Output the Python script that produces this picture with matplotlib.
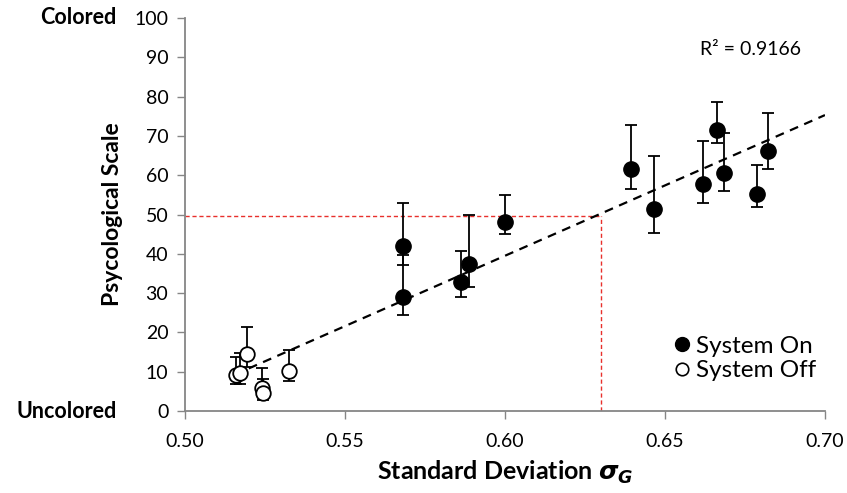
import matplotlib
matplotlib.use('Agg')
from matplotlib import pyplot as plt
from matplotlib.lines import Line2D
import numpy as np

# System On (filled markers): x, y, upper and lower ends of the error bars
on_x = [0.5682, 0.5682, 0.5862, 0.5887, 0.6000, 0.6393,
        0.6465, 0.6619, 0.6664, 0.6686, 0.6789, 0.6821]
on_y = [42.1, 29.1, 32.7, 37.5, 48.0, 61.7,
        51.3, 57.7, 71.4, 60.5, 55.1, 66.1]
on_hi = [53.0, 39.8, 40.6, 50.0, 55.0, 72.7,
         64.8, 68.6, 78.6, 70.7, 62.5, 75.8]
on_lo = [37.2, 24.5, 29.1, 31.6, 45.0, 56.6,
         45.3, 52.8, 68.1, 55.9, 52.0, 61.7]

# System Off (open markers)
off_x = [0.5160, 0.5172, 0.5195, 0.5242, 0.5245, 0.5324]
off_y = [9.2, 9.6, 14.5, 5.8, 4.6, 10.2]
off_hi = [13.7, 14.8, 21.4, 10.9, 8.1, 15.5]
off_lo = [6.9, 6.9, 11.2, 4.0, 2.8, 7.6]

# linear trend line
trend_x = [0.5155, 0.70]
trend_slope = 358.0
trend_icpt = -175.3
r2_text = 'R² = 0.9166'

# red guide lines
guide_x = 0.630
guide_y = 49.7

x_ticks = [0.50, 0.55, 0.60, 0.65, 0.70]
y_ticks = list(range(0, 101, 10))

plt.rcParams['font.family'] = ['Lato', 'DejaVu Sans']
fig = plt.figure(figsize=(8.47, 4.93), dpi=100)
ax = fig.add_axes([0.2184, 0.1663, 0.7556, 0.7972])

gray = '#868686'

# guides
ax.plot([0.50, guide_x], [guide_y, guide_y], color='#e8302c', lw=1.0,
        dashes=(3, 2), zorder=1)
ax.plot([guide_x, guide_x], [0, guide_y], color='#e8302c', lw=1.0,
        dashes=(3, 2), zorder=1)

# trend
tx = np.array(trend_x)
ax.plot(tx, trend_slope * tx + trend_icpt, color='black', lw=1.6,
        dashes=(4, 3), zorder=2)

on_y_a = np.array(on_y)
off_y_a = np.array(off_y)
ax.errorbar(on_x, on_y,
            yerr=[on_y_a - np.array(on_lo), np.array(on_hi) - on_y_a],
            fmt='none', ecolor='black', elinewidth=1.3, capsize=4.5,
            capthick=1.3, zorder=3)
ax.errorbar(off_x, off_y,
            yerr=[off_y_a - np.array(off_lo), np.array(off_hi) - off_y_a],
            fmt='none', ecolor='black', elinewidth=1.3, capsize=4.5,
            capthick=1.3, zorder=3)
ax.plot(on_x, on_y, 'o', ms=11, mfc='black', mec='black', ls='none',
        zorder=4)
ax.plot(off_x, off_y, 'o', ms=10.5, mfc='white', mec='black', mew=1.3,
        ls='none', zorder=4)

ax.set_xlim(0.50, 0.70)
ax.set_ylim(0, 100)
ax.set_xticks(x_ticks)
ax.set_xticklabels(['%.2f' % v for v in x_ticks])
ax.set_yticks(y_ticks)
for s in ['top', 'right']:
    ax.spines[s].set_visible(False)
for s in ['left', 'bottom']:
    ax.spines[s].set_color(gray)
    ax.spines[s].set_linewidth(1.3)
ax.tick_params(axis='both', colors=gray, labelcolor='black', length=6,
               width=1.0, labelsize=14)
ax.tick_params(axis='x', pad=10)
ax.tick_params(axis='y', pad=6)

ax.set_xlabel(r'Standard Deviation $\mathbfit{\sigma_G}$', fontsize=18,
              fontweight='bold', labelpad=6)
ax.set_ylabel('Psycological Scale', fontsize=16.5, fontweight='bold',
              labelpad=8)
ax.text(-0.107, 1.0, 'Colored', transform=ax.transAxes, ha='right',
        va='center', fontsize=15.5, fontweight='bold')
ax.text(-0.107, 0.0, 'Uncolored', transform=ax.transAxes, ha='right',
        va='center', fontsize=15.5, fontweight='bold')
ax.text(0.6925, 92, r2_text, ha='right', va='center', fontsize=14)

handles = [
    Line2D([], [], marker='o', ls='none', ms=10, mfc='black', mec='black'),
    Line2D([], [], marker='o', ls='none', ms=9, mfc='white', mec='black',
           mew=1.2),
]
ax.legend(handles, ['System On', 'System Off'], loc='lower right',
          bbox_to_anchor=(1.02, 0.02), frameon=False, fontsize=17.5,
          handletextpad=0.1, labelspacing=0.15, handlelength=0.9)

fig.savefig('out.png', dpi=100)
